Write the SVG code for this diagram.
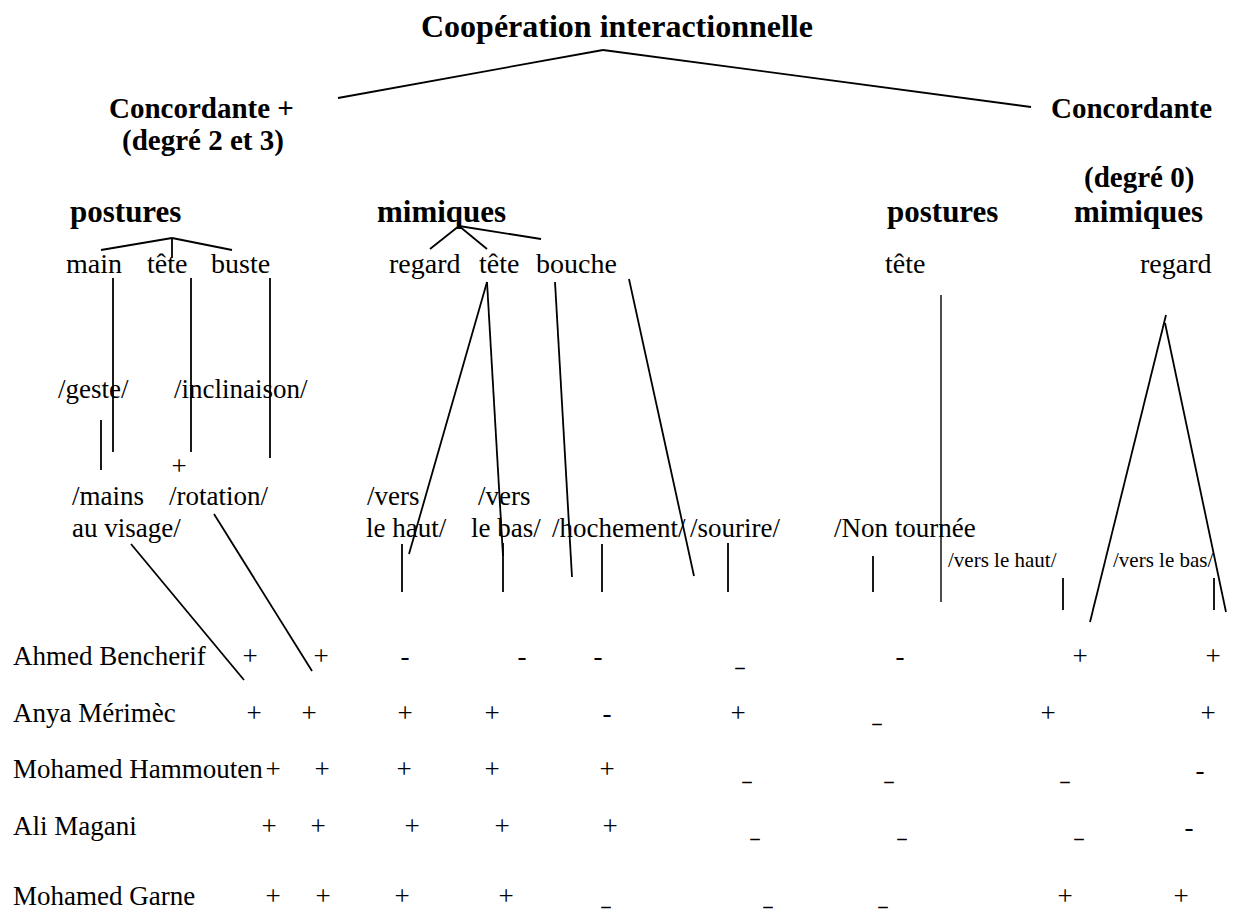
<svg xmlns="http://www.w3.org/2000/svg" width="1235" height="910" viewBox="0 0 1235 910">
<style>
text{font-family:"Liberation Serif","Times New Roman",serif;fill:#000}
.t{font-size:32px;font-weight:bold}
.b{font-size:29px;font-weight:bold}
.c{font-size:31px;font-weight:bold}
.r{font-size:28px}
.m{font-size:27px}
.s{font-size:21px}
.v{font-size:27px;text-anchor:middle}
.u{font-size:17px;text-anchor:middle;stroke:#000;stroke-width:0.7}
.ln line{stroke:#000;stroke-width:1.8;fill:none}
</style>
<rect width="1235" height="910" fill="#fff"/>
<g id="connectors" class="ln">
<line x1="603" y1="50" x2="338" y2="98"/>
<line x1="603" y1="50" x2="1031" y2="107"/>
<line x1="172" y1="238" x2="101" y2="250"/>
<line x1="172" y1="238" x2="232" y2="250"/>
<line x1="172" y1="238" x2="172" y2="258"/>
<line x1="459" y1="226" x2="430" y2="249"/>
<line x1="459" y1="226" x2="487" y2="249"/>
<line x1="459" y1="226" x2="541" y2="239"/>
<line x1="113" y1="278" x2="113" y2="452"/>
<line x1="191" y1="278" x2="191" y2="452"/>
<line x1="270" y1="278" x2="270" y2="458"/>
<line x1="101" y1="420" x2="101" y2="470"/>
<line x1="131" y1="544" x2="244" y2="680"/>
<line x1="214" y1="514" x2="312" y2="671"/>
<line x1="487" y1="282" x2="409" y2="554"/>
<line x1="487" y1="282" x2="503" y2="556"/>
<line x1="402" y1="544" x2="402" y2="592"/>
<line x1="503" y1="543" x2="503" y2="592"/>
<line x1="555" y1="282" x2="572" y2="577"/>
<line x1="602" y1="544" x2="602" y2="592"/>
<line x1="629" y1="279" x2="694" y2="576"/>
<line x1="728" y1="543" x2="728" y2="592"/>
<line x1="873" y1="556" x2="873" y2="592"/>
<line x1="941" y1="295" x2="941" y2="602" style="stroke-width:1.4"/>
<line x1="1063" y1="578" x2="1063" y2="610"/>
<line x1="1166" y1="315" x2="1090" y2="622"/>
<line x1="1165" y1="323" x2="1226" y2="612"/>
<line x1="1214" y1="578" x2="1214" y2="610"/>
</g>
<g id="title"><text class="t" x="421" y="37">Coopération interactionnelle</text></g>
<g id="concordante-plus"><text class="b" x="109" y="118">Concordante +</text><text class="b" x="122" y="150">(degré 2 et 3)</text></g>
<g id="concordante-zero"><text class="b" x="1051" y="118">Concordante</text><text class="b" x="1084" y="187">(degré 0)</text></g>
<g id="postures-left"><text class="c" x="70" y="222">postures</text></g>
<g id="mimiques-left"><text class="c" x="377" y="222">mimiques</text></g>
<g id="postures-right"><text class="c" x="887" y="222">postures</text></g>
<g id="mimiques-right"><text class="c" x="1074" y="222">mimiques</text></g>
<g id="main"><text class="r" x="66" y="273">main</text></g>
<g id="tete-1"><text class="r" x="147" y="273">tête</text></g>
<g id="buste"><text class="r" x="211" y="273">buste</text></g>
<g id="regard-1"><text class="r" x="389" y="273">regard</text></g>
<g id="tete-2"><text class="r" x="479" y="273">tête</text></g>
<g id="bouche"><text class="r" x="536" y="273">bouche</text></g>
<g id="tete-3"><text class="r" x="885" y="273">tête</text></g>
<g id="regard-2"><text class="r" x="1140" y="273">regard</text></g>
<g id="geste"><text class="m" x="58" y="398">/geste/</text></g>
<g id="inclinaison"><text class="m" x="174" y="398">/inclinaison/</text></g>
<g id="plus-tete"><text class="v" x="179" y="475">+</text></g>
<g id="mains"><text class="m" x="72" y="505">/mains</text><text class="m" x="72" y="537">au visage/</text></g>
<g id="rotation"><text class="m" x="169" y="505">/rotation/</text></g>
<g id="vers-haut-1"><text class="m" x="367" y="505">/vers</text><text class="m" x="366" y="537">le haut/</text></g>
<g id="vers-bas-1"><text class="m" x="478" y="505">/vers</text><text class="m" x="471" y="537">le bas/</text></g>
<g id="hochement"><text class="m" x="552" y="537">/hochement/</text></g>
<g id="sourire"><text class="m" x="690" y="537">/sourire/</text></g>
<g id="non-tournee"><text class="m" x="834" y="537">/Non tournée</text></g>
<g id="vers-haut-2"><text class="s" x="948" y="567">/vers le haut/</text></g>
<g id="vers-bas-2"><text class="s" x="1113" y="567">/vers le bas/</text></g>
<g id="row-ahmed">
<text class="m" x="13" y="665">Ahmed Bencherif</text>
<text class="v" x="250" y="665">+</text><text class="v" x="321" y="665">+</text>
<text class="v" x="405" y="665">-</text><text class="v" x="522" y="665">-</text><text class="v" x="598" y="665">-</text>
<text class="u" x="740" y="667">_</text>
<text class="v" x="900" y="665">-</text>
<text class="v" x="1080" y="665">+</text><text class="v" x="1213" y="665">+</text>
</g>
<g id="row-anya">
<text class="m" x="13" y="722">Anya Mérimèc</text>
<text class="v" x="254" y="722">+</text><text class="v" x="309" y="722">+</text><text class="v" x="405" y="722">+</text><text class="v" x="492" y="722">+</text>
<text class="v" x="607" y="722">-</text>
<text class="v" x="738" y="722">+</text>
<text class="u" x="877" y="723">_</text>
<text class="v" x="1048" y="722">+</text><text class="v" x="1208" y="722">+</text>
</g>
<g id="row-hammouten">
<text class="m" x="13" y="778">Mohamed Hammouten</text>
<text class="v" x="273" y="778">+</text><text class="v" x="322" y="778">+</text><text class="v" x="404" y="778">+</text><text class="v" x="492" y="778">+</text><text class="v" x="607" y="778">+</text>
<text class="u" x="747" y="781">_</text><text class="u" x="889" y="781">_</text><text class="u" x="1065" y="781">_</text>
<text class="v" x="1200" y="779">-</text>
</g>
<g id="row-magani">
<text class="m" x="13" y="835">Ali Magani</text>
<text class="v" x="269" y="835">+</text><text class="v" x="318" y="835">+</text><text class="v" x="412" y="835">+</text><text class="v" x="502" y="835">+</text><text class="v" x="610" y="835">+</text>
<text class="u" x="755" y="838">_</text><text class="u" x="902" y="838">_</text><text class="u" x="1079" y="838">_</text>
<text class="v" x="1189" y="836">-</text>
</g>
<g id="row-garne">
<text class="m" x="13" y="905">Mohamed Garne</text>
<text class="v" x="273" y="905">+</text><text class="v" x="323" y="905">+</text><text class="v" x="402" y="905">+</text><text class="v" x="506" y="905">+</text>
<text class="u" x="606" y="906">_</text><text class="u" x="768" y="906">_</text><text class="u" x="883" y="906">_</text>
<text class="v" x="1065" y="905">+</text><text class="v" x="1181" y="905">+</text>
</g>
</svg>
